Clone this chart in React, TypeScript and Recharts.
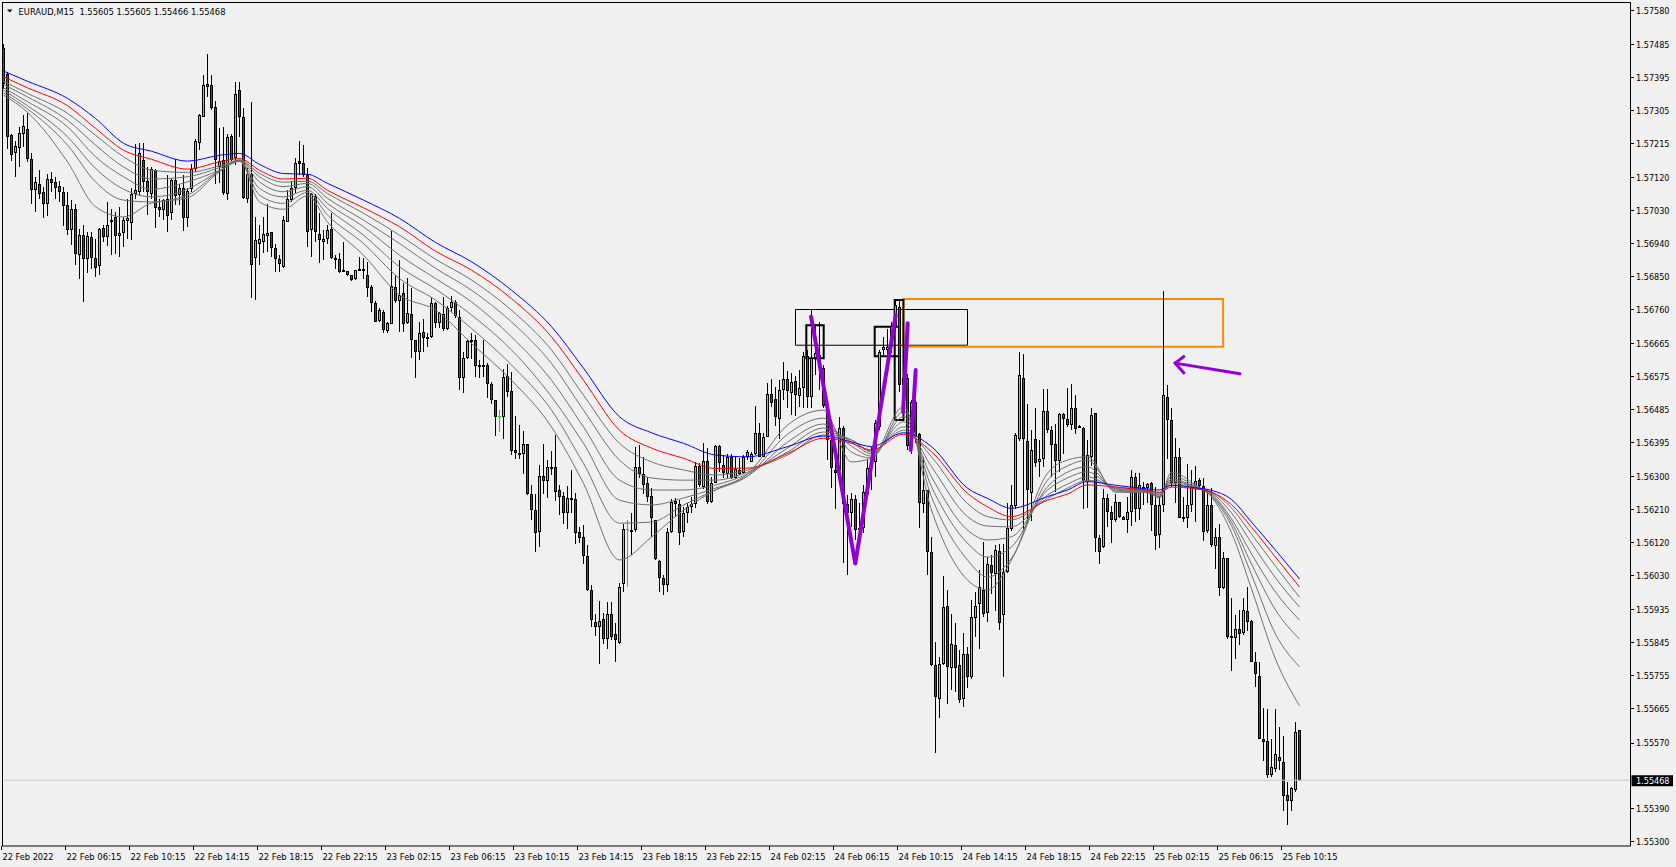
import React from "react";
import { ComposedChart, Bar, Line, XAxis, YAxis, ReferenceLine, ReferenceArea } from "recharts";

// EURAUD M15 candles, prices in points (1 point = 0.00001)
const openPts = [
157476,157406,157237,157187,157202,157241,157255,157173,157086,157104,
157081,157049,157116,157109,157097,157081,157045,156976,157034,156908,
156963,156897,156958,156900,156878,156983,156958,157004,157012,156961,
156970,157003,156995,157077,157081,157168,157111,157077,157141,157040,
157031,157063,157025,157113,157072,157091,157010,157089,157144,157217,
157287,157378,157374,157314,157151,157169,157075,157235,157174,157361,
157288,157062,157130,156899,156940,156945,156961,156971,156927,156897,
156876,157000,157059,157091,157166,157162,157128,156977,157071,156965,
156945,156952,156980,156901,156897,156867,156865,156854,156843,156868,
156870,156855,156821,156777,156728,156752,156700,156720,156821,156781,
156803,156721,156746,156675,156642,156696,156684,156683,156778,156722,
156746,156706,156762,156779,156739,156570,156627,156675,156675,156608,
156608,156608,156554,156512,156466,156465,156576,156535,156375,156366,
156364,156390,156253,156210,156149,156302,156289,156328,156328,156265,
156247,156201,156243,156238,156148,156134,156084,155989,155902,155889,
155909,155854,155925,155869,155845,156006,156158,156154,156154,156328,
156309,156282,156247,156182,156070,156022,156003,156148,156234,156226,
156148,156200,156218,156226,156330,156273,156343,156232,156284,156385,
156332,156308,156354,156296,156319,156310,156355,156342,156363,156421,
156355,156410,156527,156513,156458,156538,156568,156529,156563,156523,
156543,156631,156520,156625,156634,156598,156490,156401,156319,156319,
156433,156226,156200,156238,156154,156160,156253,156323,156340,156437,
156649,156649,156657,156714,156766,156552,156572,156382,156506,156417,
156225,156264,156095,155784,155690,155788,155946,155777,155839,155784,
155690,155814,155750,155912,155951,155991,155927,156058,156033,156097,
155921,156040,156157,156220,156405,156570,156399,156256,156403,156341,
156350,156481,156428,156390,156344,156472,156460,156442,156490,156435,
156435,156287,156355,156474,156133,156107,156242,156205,156181,156231,
156191,156183,156203,156301,156213,156265,156270,156282,156224,156140,
156222,156520,156455,156284,156354,156190,156188,156224,156272,156292,
156274,156152,156224,156111,156135,155995,156077,155863,155857,155883,
155873,155931,155905,155793,155755,155582,155575,155482,155498,155532,
155517,155428,155411,155440,155605];

const highPts = [
157488,157410,157241,157220,157260,157292,157299,157189,157123,157141,
157095,157132,157136,157123,157111,157095,157081,157059,157047,156981,
156990,156972,156972,156953,156983,156990,157054,157036,157027,157040,
157013,157063,157091,157214,157217,157217,157150,157150,157144,157063,
157063,157127,157118,157173,157104,157127,157091,157159,157228,157296,
157401,157459,157401,157330,157256,157260,157239,157239,157382,157382,
157313,157146,157327,157013,156991,157013,157047,156972,156940,156908,
157016,157087,157111,157174,157221,157210,157146,157078,157075,157025,
156977,156991,157025,156908,156913,156945,156865,156855,156867,156904,
156899,156890,156826,156782,156762,156758,156726,156974,156854,156895,
156831,156845,156817,156675,156724,156733,156694,156794,156780,156752,
156792,156768,156795,156784,156759,156643,156678,156695,156688,156620,
156676,156611,156560,156512,156483,156597,156609,156588,156466,156442,
156426,156390,156277,156253,156332,156390,156346,156371,156414,156277,
156259,156274,156320,156256,156163,156167,156113,156003,155923,155960,
155927,155957,155957,155898,156008,156172,156181,156200,156382,156387,
156355,156300,156270,156182,156072,156031,156160,156238,156241,156237,
156218,156229,156246,156342,156337,156392,156378,156301,156387,156387,
156360,156363,156363,156355,156351,156360,156374,156369,156494,156447,
156419,156557,156568,156547,156566,156616,156589,156584,156577,156593,
156643,156648,156758,156720,156726,156607,156511,156438,156346,156465,
156440,156250,156255,156250,156227,156278,156350,156382,156456,156648,
156684,156705,156724,156785,156785,156653,156583,156510,156510,156419,
156355,156265,156136,155848,155807,156028,155989,155925,155898,155825,
155871,155834,155962,155985,156044,156122,156081,156085,156113,156117,
156117,156227,156277,156419,156643,156638,156501,156428,156490,156401,
156542,156542,156439,156446,156474,156474,156545,156556,156524,156442,
156437,156402,156489,156476,156140,156268,156253,156220,156253,156232,
156194,156244,156319,156311,156311,156287,156284,156287,156272,156248,
156811,156551,156489,156407,156378,156244,156335,156320,156330,156296,
156296,156268,156270,156159,156171,156094,156078,155969,155921,155936,
155969,155998,155907,155820,155793,155666,155664,155580,155662,155613,
155589,155464,155450,155628,155605];

const lowPts = [
157365,157200,157166,157123,157150,157205,157164,157049,157027,157063,
157010,157016,157081,157063,157054,156988,156963,156935,156880,156844,
156780,156858,156871,156848,156853,156944,156933,156908,156912,156903,
156931,156953,156949,157063,157072,157081,157017,157063,156983,157013,
157004,156972,157004,157045,157045,156974,156985,157081,157136,157196,
157287,157342,157305,157104,157105,157073,157059,157166,157155,157233,
157062,157050,156791,156785,156881,156913,156918,156904,156863,156863,
156874,156998,157055,157078,157128,157123,156931,156904,156945,156886,
156895,156940,156897,156870,156858,156863,156852,156837,156841,156865,
156843,156794,156753,156724,156726,156694,156694,156718,156776,156698,
156698,156718,156625,156572,156620,156643,156657,156680,156707,156709,
156700,156704,156753,156737,156538,156530,156624,156622,156574,156572,
156574,156517,156499,156412,156423,156405,156519,156360,156350,156348,
156309,156250,156181,156094,156108,156254,156241,156305,156234,156195,
156172,156156,156200,156117,156119,156062,155987,155887,155863,155788,
155843,155829,155852,155793,155843,155985,155998,156085,156149,156298,
156254,156231,156136,156072,155984,155976,155984,156145,156191,156113,
156136,156173,156200,156214,156273,156266,156226,156228,156282,156314,
156296,156296,156294,156294,156305,156308,156346,156340,156360,156354,
156354,156408,156492,156440,156403,156511,156488,156470,156467,156491,
156488,156488,156488,156580,156538,156488,156346,156269,156211,156291,
156063,156031,156163,156127,156110,156145,156241,156264,156300,156428,
156634,156634,156640,156700,156533,156465,156373,156364,156392,156159,
156200,156031,155781,155542,155640,155784,155677,155715,155711,155679,
155670,155720,155747,155861,155827,155916,155903,155980,155933,155880,
155752,156035,156152,156211,156399,156154,156172,156180,156328,156300,
156328,156419,156300,156259,156314,156364,156437,156428,156417,156433,
156213,156215,156330,156094,156061,156104,156162,156119,156176,156186,
156181,156145,156165,156176,156181,156224,156229,156152,156099,156104,
156205,156349,156272,156229,156186,156176,156159,156205,156176,156263,
156123,156147,156109,156046,155974,155993,155854,155767,155801,155840,
155866,155878,155791,155724,155580,155520,155474,155476,155491,155495,
155383,155344,155383,155435,155466];

const closePts = [
157378,157232,157182,157207,157244,157262,157173,157086,157109,157077,
157049,157118,157107,157092,157080,157043,156976,157036,156910,156963,
156897,156961,156899,156874,156979,156958,156990,156999,156961,156970,
157004,157010,157077,157086,157187,157109,157080,157145,157038,157031,
157060,157016,157114,157070,157091,157010,157083,157144,157220,157292,
157376,157369,157312,157168,157166,157078,157233,157169,157350,157288,
157064,157130,156881,156950,156952,156965,156969,156927,156897,156883,
157004,157062,157091,157162,157159,157128,156972,157075,156971,156949,
156952,156977,156899,156897,156863,156863,156854,156839,156866,156870,
156866,156819,156776,156726,156758,156703,156721,156824,156781,156799,
156718,156749,156675,156643,156694,156680,156680,156776,156722,156750,
156706,156764,156779,156741,156572,156627,156673,156671,156604,156604,
156604,156556,156510,156465,156466,156574,156533,156371,156366,156362,
156390,156252,156210,156147,156302,156289,156326,156325,156259,156245,
156200,156243,156241,156146,156133,156084,155989,155907,155889,155904,
155854,155925,155861,155852,155998,156158,156158,156149,156328,156309,
156279,156245,156186,156074,156022,156003,156150,156232,156226,156147,
156200,156216,156226,156330,156278,156343,156232,156282,156385,156337,
156310,156354,156296,156321,156308,156354,156368,156363,156421,156355,
156410,156527,156502,156463,156538,156568,156536,156561,156525,156543,
156631,156520,156625,156640,156598,156494,156401,156323,156310,156433,
156226,156200,156238,156154,156160,156258,156323,156340,156448,156643,
156655,156657,156714,156771,156552,156572,156384,156506,156410,156227,
156264,156095,155784,155695,155788,155944,155779,155841,155775,155688,
155814,155750,155915,155946,155997,155925,156061,156035,156099,155900,
156040,156159,156222,156414,156579,156405,156265,156375,156337,156348,
156481,156428,156387,156344,156472,156460,156442,156490,156430,156439,
156289,156359,156470,156133,156094,156242,156205,156181,156231,156191,
156183,156203,156301,156213,156277,156272,156280,156224,156138,156224,
156524,156455,156284,156354,156188,156188,156224,156272,156289,156274,
156149,156224,156114,156136,155995,156077,155861,155857,155883,155870,
155934,155902,155793,155758,155582,155572,155482,155503,155539,155520,
155426,155411,155447,155601,155468];

// Moving-average lines at these bar indices (points)
const maIdx = [0,6,16,23,30,37,46,54,59,64,70,76,81,90,99,108,117,127,137,145,154,162,170,178,186,196,205,212,217,225,232,241,246,252,261,266,271,278,286,289,292,298,302,307,312,318,324];
const maBlue = [157413,157385,157338,157283,157215,157193,157166,157182,157187,157157,157132,157130,157105,157059,157009,156943,156890,156812,156712,156598,156465,156421,156392,156360,156355,156383,156412,156396,156383,156421,156383,156269,156241,156214,156246,156264,156287,156277,156267,156264,156277,156270,156263,156238,156176,156099,156020];
const maRed = [157397,157367,157318,157256,157196,157171,157144,157164,157173,157141,157117,157119,157086,157038,156986,156919,156867,156789,156684,156565,156428,156379,156351,156323,156324,156364,156406,156392,156374,156417,156369,156255,156218,156191,156236,156253,156278,156272,156263,156258,156272,156267,156258,156224,156162,156080,155998];
const maGray1 = [157385,157352,157297,157237,157178,157141,157135,157153,157169,157132,157108,157111,157077,157023,156963,156897,156840,156757,156648,156524,156392,156341,156319,156305,156319,156360,156415,156401,156371,156428,156355,156227,156191,156182,156241,156269,156291,156272,156263,156256,156278,156269,156258,156215,156143,156055,155970];
const maGray2 = [157376,157342,157278,157210,157150,157117,157123,157148,157167,157123,157096,157105,157064,157004,156940,156872,156812,156725,156611,156483,156346,156297,156291,156291,156313,156368,156423,156401,156368,156437,156328,156191,156165,156163,156250,156280,156300,156269,156261,156253,156283,156272,156256,156201,156119,156023,155943];
const maGray3 = [157367,157329,157260,157178,157123,157089,157109,157141,157166,157109,157082,157096,157050,156986,156908,156844,156780,156684,156565,156437,156291,156264,156264,156278,156308,156379,156434,156395,156363,156451,156300,156154,156127,156136,156264,156297,156314,156267,156260,156250,156289,156272,156253,156185,156089,155984,155907];
const maGray4 = [157360,157318,157233,157146,157089,157068,157089,157139,157165,157091,157068,157086,157036,156963,156876,156815,156744,156648,156520,156392,156236,156223,156242,156269,156302,156395,156445,156384,156357,156465,156273,156118,156080,156108,156273,156313,156328,156264,156258,156247,156294,156272,156250,156176,156061,155935,155855];
const maGray5 = [157353,157309,157210,157109,157059,157054,157073,157139,157166,157073,157050,157080,157018,156940,156844,156785,156707,156607,156483,156337,156173,156176,156223,156264,156302,156417,156461,156368,156352,156479,156245,156072,156025,156077,156291,156330,156346,156261,156258,156245,156302,156275,156247,156166,156032,155869,155779];
const maGray6 = [157347,157300,157164,157041,157013,157051,157065,157137,157169,157054,157034,157071,156999,156908,156799,156757,156666,156565,156437,156282,156072,156135,156209,156264,156308,156442,156483,156341,156352,156492,156209,156017,155990,156072,156310,156346,156355,156258,156257,156242,156313,156278,156245,156147,155993,155800,155672];

const timeLabels = ["22 Feb 2022","22 Feb 06:15","22 Feb 10:15","22 Feb 14:15","22 Feb 18:15","22 Feb 22:15","23 Feb 02:15","23 Feb 06:15","23 Feb 10:15","23 Feb 14:15","23 Feb 18:15","23 Feb 22:15","24 Feb 02:15","24 Feb 06:15","24 Feb 10:15","24 Feb 14:15","24 Feb 18:15","24 Feb 22:15","25 Feb 02:15","25 Feb 06:15","25 Feb 10:15"];
const barsPerLabel = 16;
const totalSlots = 407;

const priceTicks = [1.5758,1.57485,1.57395,1.57305,1.57215,1.5712,1.5703,1.5694,1.5685,1.5676,1.56665,1.56575,1.56485,1.56395,1.563,1.5621,1.5612,1.5603,1.55935,1.55845,1.55755,1.55665,1.5557,1.5539,1.553];
const priceDomain = [1.55289, 1.57601];
const lastPrice = 1.55468;
const titleText = "EURAUD,M15  1.55605 1.55605 1.55466 1.55468";

// drawings (bar index, price)
const thinBoxes = [{ x1: 198, x2: 241, y1: 1.56661, y2: 1.56759 }];
const thickBoxes = [
  { x1: 200.7, x2: 205.05, y1: 1.56625, y2: 1.56716 },
  { x1: 217.8, x2: 224.1, y1: 1.56631, y2: 1.56712 },
  { x1: 222.8, x2: 225.0, y1: 1.56456, y2: 1.56785 },
];
const orangeBoxes = [{ x1: 224.9, x2: 304.9, y1: 1.56657, y2: 1.56788 }];
const purpleThick = [
  [{ x: 201.9, y: 1.56739 }, { x: 212.95, y: 1.56063 }],
  [{ x: 212.95, y: 1.56063 }, { x: 223.05, y: 1.56744 }],
  [{ x: 226.05, y: 1.56721 }, { x: 224.9, y: 1.56478 }],
  [{ x: 228.05, y: 1.56593 }, { x: 226.8, y: 1.56374 }],
];
const purpleArrow = [
  [{ x: 292.9, y: 1.56612 }, { x: 309.1, y: 1.56583 }],
  [{ x: 292.9, y: 1.56612 }, { x: 295.1, y: 1.5663 }],
  [{ x: 292.9, y: 1.56612 }, { x: 295.1, y: 1.56585 }],
];

const P = 100000;
const rows: any[] = Array.from({ length: totalSlots }, (_, i) => {
  const r: any = { i };
  if (i < openPts.length) {
    r.o = openPts[i] / P;
    r.h = highPts[i] / P;
    r.l = lowPts[i] / P;
    r.c = closePts[i] / P;
    r.range = [r.l, r.h];
  }
  return r;
});
const maSets: [string, number[]][] = [["blue", maBlue], ["red", maRed], ["g1", maGray1], ["g2", maGray2], ["g3", maGray3], ["g4", maGray4], ["g5", maGray5], ["g6", maGray6]];
maIdx.forEach((k, j) => {
  maSets.forEach(([key, arr]) => { rows[k][key] = arr[j] / P; });
});
const xTickIdx = timeLabels.map((_, k) => k * barsPerLabel);

const BULL = "#9bd52b";
const BEAR = "#e31010";
const DOJI = "#00e600";
const GRAY = "#6f6f6f";
const PURPLE = "#9400d3";
const FONT = "DejaVu Sans, Verdana, sans-serif";

function Candle(props: any) {
  const { x, y, width, height, payload } = props;
  if (!payload || payload.o == null || x == null || y == null) return null;
  const { o, h, l, c } = payload;
  const top = Math.min(y, y + height);
  const bot = Math.max(y, y + height);
  const span = h - l;
  const yOf = (v: number) => (span > 0 ? top + ((h - v) / span) * (bot - top) : top);
  const cx = Math.round(x + width / 2 - 0.5) + 0.5;
  const wTop = Math.round(top);
  const wBot = Math.round(bot);
  if (o === c) {
    const yy = Math.round(yOf(o)) + 0.5;
    return (
      <g>
        <line x1={cx} x2={cx} y1={wTop} y2={wBot} stroke={DOJI} strokeWidth={1} />
        <line x1={cx - 1.5} x2={cx + 1.5} y1={yy} y2={yy} stroke={DOJI} strokeWidth={1} />
      </g>
    );
  }
  const yo = yOf(o);
  const yc = yOf(c);
  const bTop = Math.round(Math.min(yo, yc)) + 0.5;
  const bBot = Math.max(Math.round(Math.max(yo, yc)) - 0.5, bTop + 1);
  return (
    <g>
      <line x1={cx} x2={cx} y1={wTop} y2={wBot} stroke="#000" strokeWidth={1} />
      <rect x={cx - 1} y={bTop} width={2} height={bBot - bTop} fill={c > o ? BULL : BEAR} stroke="#000" strokeWidth={1} />
    </g>
  );
}

function XTick(props: any) {
  const { x, payload } = props;
  const v = Number(payload && payload.value);
  if (!Number.isFinite(v) || v % barsPerLabel !== 0) return null;
  const k = v / barsPerLabel;
  if (k >= timeLabels.length) return null;
  const bx = Math.round(x - 2 - 0.5) + 0.5;
  const text = timeLabels[k];
  return (
    <g>
      <line x1={bx} x2={bx} y1={846} y2={850} stroke="#000" strokeWidth={1} />
      <text x={bx + 1} y={859.5} fontSize={9.5} fontFamily={FONT} fill="#000" textLength={k === 0 ? 51 : 55} lengthAdjust="spacingAndGlyphs">
        {text}
      </text>
    </g>
  );
}

function YTick(props: any) {
  const { y, payload } = props;
  const yy = Math.round(y - 0.5) + 0.5;
  return (
    <g>
      <line x1={1630} x2={1634} y1={yy} y2={yy} stroke="#000" strokeWidth={1} />
      <text x={1636} y={y} dy="0.36em" fontSize={9.5} fontFamily={FONT} fill="#000" textLength={33.5} lengthAdjust="spacingAndGlyphs">
        {Number(payload.value).toFixed(5)}
      </text>
    </g>
  );
}

function PriceTag(props: any) {
  const vb = props.viewBox || {};
  const y = vb.y;
  if (y == null) return null;
  return (
    <g>
      <rect x={1631.5} y={y - 5} width={41.5} height={11} fill="#000" />
      <text x={1636} y={y} dy="0.36em" fontSize={9.5} fontFamily={FONT} fill="#fff" textLength={33.5} lengthAdjust="spacingAndGlyphs">
        {lastPrice.toFixed(5)}
      </text>
    </g>
  );
}

export default function App() {
  return (
    <div style={{ position: "absolute", left: 0, top: 0, width: 1676, height: 867, background: "#f0f0f0", overflow: "hidden" }}>
      <ComposedChart
        width={1676}
        height={867}
        data={rows}
        margin={{ top: 2.5, right: 0, bottom: 0, left: 1.5 }}
        barCategoryGap={0}
        barGap={0}
      >
        <XAxis dataKey="i" type="category" height={21.5} ticks={xTickIdx} interval={0} tick={<XTick />} axisLine={false} tickLine={false} />
        <XAxis xAxisId="n" dataKey="i" type="number" domain={[-0.5, totalSlots - 0.5]} allowDataOverflow hide />
        <YAxis
          orientation="right"
          type="number"
          width={46.5}
          domain={priceDomain}
          allowDataOverflow
          ticks={priceTicks}
          interval={0}
          tick={<YTick />}
          axisLine={false}
          tickLine={false}
        />
        <ReferenceLine y={lastPrice} stroke="#c8c8c8" strokeWidth={1} label={<PriceTag />} ifOverflow="visible" />
        <Bar dataKey="range" isAnimationActive={false} shape={(p: any) => <Candle {...p} />} />
        {["g6", "g5", "g4", "g3", "g2", "g1"].map((k) => (
          <Line key={k} dataKey={k} stroke={GRAY} strokeWidth={1} dot={false} activeDot={false} connectNulls type="monotone" isAnimationActive={false} />
        ))}
        <Line dataKey="red" stroke="#ff0000" strokeWidth={1} dot={false} activeDot={false} connectNulls type="monotone" isAnimationActive={false} />
        <Line dataKey="blue" stroke="#0000ff" strokeWidth={1} dot={false} activeDot={false} connectNulls type="monotone" isAnimationActive={false} />
        {thinBoxes.map((b, j) => (
          <ReferenceArea key={"t" + j} xAxisId="n" x1={b.x1} x2={b.x2} y1={b.y1} y2={b.y2} fill="none" fillOpacity={0} stroke="#000" strokeWidth={1} ifOverflow="visible" />
        ))}
        {orangeBoxes.map((b, j) => (
          <ReferenceArea key={"o" + j} xAxisId="n" x1={b.x1} x2={b.x2} y1={b.y1} y2={b.y2} fill="none" fillOpacity={0} stroke="#ff8c00" strokeWidth={2} ifOverflow="visible" />
        ))}
        {thickBoxes.map((b, j) => (
          <ReferenceArea key={"k" + j} xAxisId="n" x1={b.x1} x2={b.x2} y1={b.y1} y2={b.y2} fill="none" fillOpacity={0} stroke="#000" strokeWidth={2} ifOverflow="visible" />
        ))}
        {purpleThick.map((s, j) => (
          <ReferenceLine key={"p" + j} xAxisId="n" segment={s} stroke={PURPLE} strokeWidth={4} strokeLinecap="round" ifOverflow="visible" />
        ))}
        {purpleArrow.map((s, j) => (
          <ReferenceLine key={"a" + j} xAxisId="n" segment={s} stroke={PURPLE} strokeWidth={3} strokeLinecap="round" ifOverflow="visible" />
        ))}
      </ComposedChart>
      <svg width={1676} height={867} style={{ position: "absolute", left: 0, top: 0, pointerEvents: "none" }}>
        <rect x={2.5} y={2.5} width={1628} height={843.5} fill="none" stroke="#000" strokeWidth={1} />
        <polygon points="7,9.5 12.5,9.5 9.75,12.5" fill="#000" />
        <text x={18.5} y={14.5} fontSize={9.5} fontFamily={FONT} fill="#000" textLength={207} lengthAdjust="spacingAndGlyphs" style={{ whiteSpace: "pre" }}>
          {titleText}
        </text>
      </svg>
    </div>
  );
}
